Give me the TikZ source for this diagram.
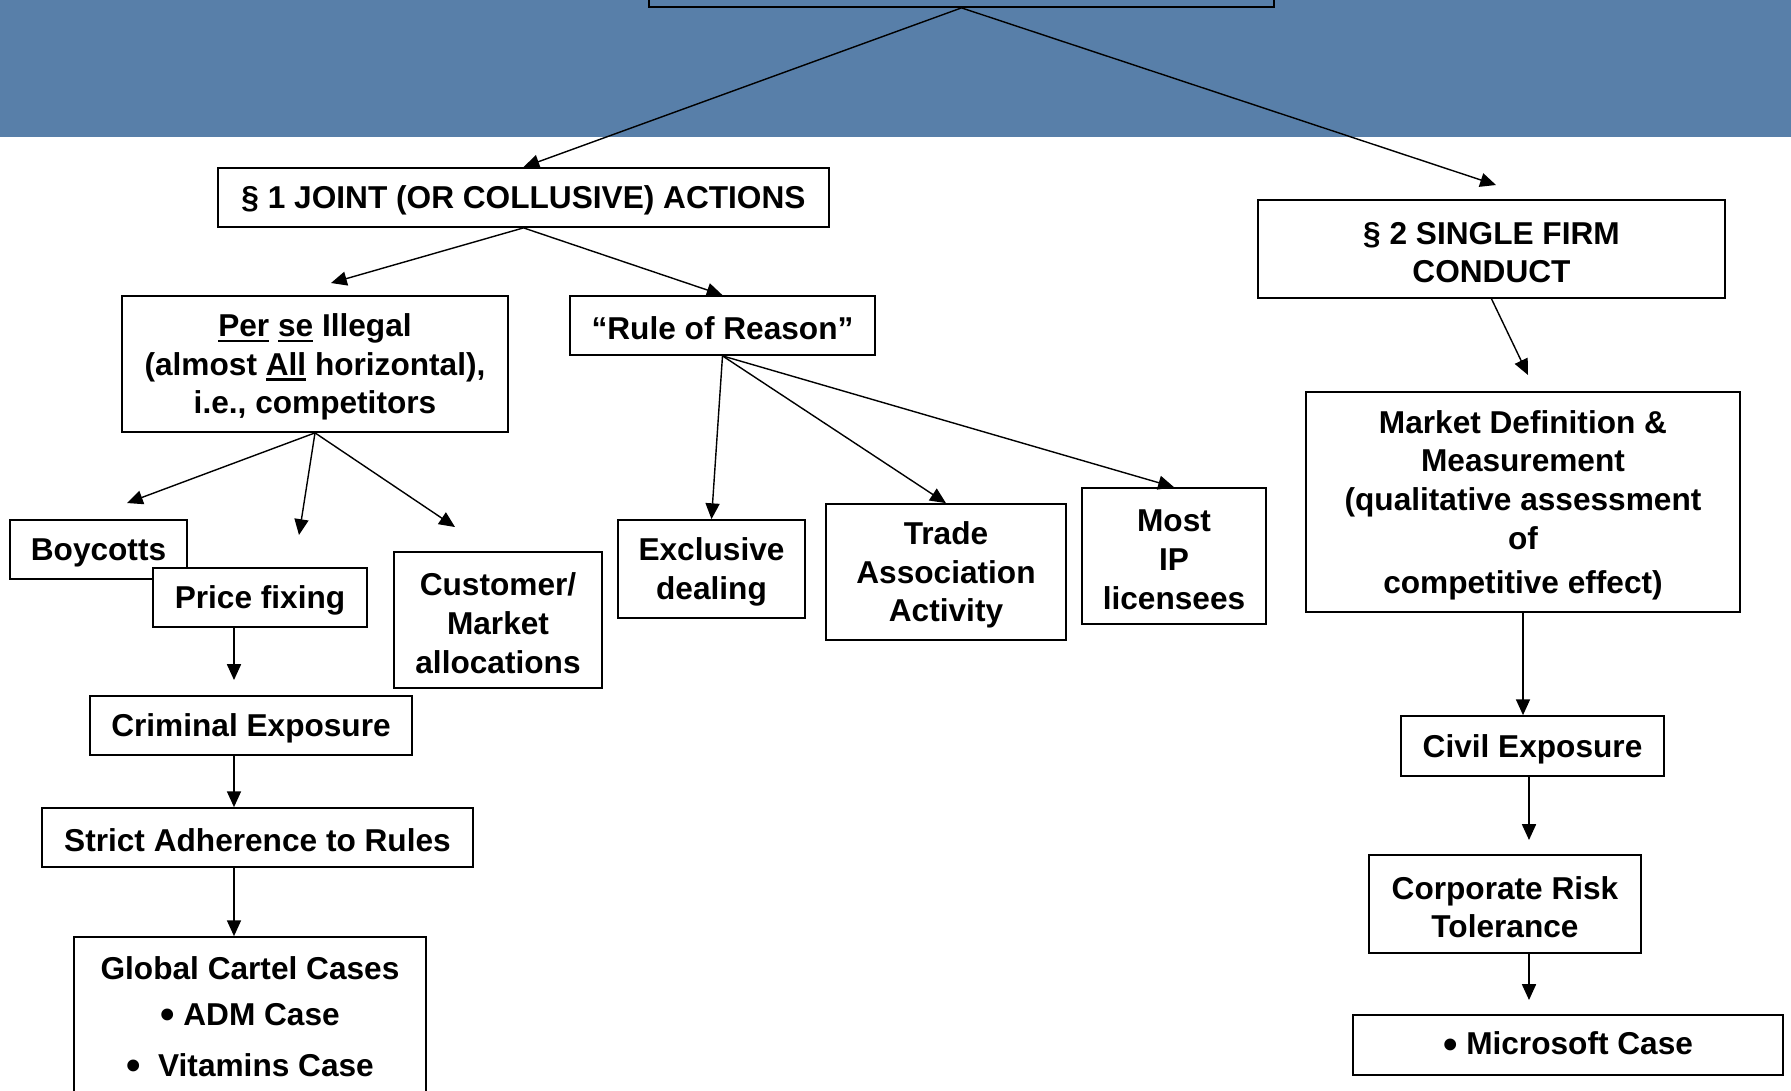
\documentclass[tikz,border=0pt]{standalone}
\usepackage{fontspec}
\setmainfont{Liberation Sans}
\usepackage{xcolor}
\usepackage{graphicx}
\usetikzlibrary{arrows.meta}
\definecolor{bandblue}{RGB}{88,127,169}
\newcommand{\ulbold}[1]{\setbox0\hbox{#1}\rlap{\rule[-3.2pt]{\wd0}{1.4pt}}\box0\relax}
\newcommand{\bul}{\raisebox{-1.9pt}{\scalebox{1.3}{•}}}
\newcommand{\up}{\rule{0pt}{16.5pt}}

\begin{document}
\begin{tikzpicture}[x=0.02cm,y=-0.02cm,
  box/.style={draw,line width=1pt,fill=white,align=center,inner sep=0pt,
    font=\fontsize{18}{22}\selectfont\bfseries},
  arr/.style={line width=0.8pt,-{Triangle[length=9pt,width=8pt]}}]
\clip (0,0) rectangle (1791,1090);
\fill[bandblue] (0,0) rectangle (1791,137);

\node[draw,line width=1pt,minimum width=12.5cm,minimum height=1.34cm] (top) at (961.5,-26.5) {};

\node[box,minimum width=12.22cm,minimum height=1.18cm] (joint) at (523.5,197.5) {\up§ 1 JOINT (OR COLLUSIVE) ACTIONS};
\node[box,minimum width=9.34cm,minimum height=1.96cm] (single) at (1491.5,249) {\up§ 2 SINGLE FIRM\\CONDUCT};

\node[box,minimum width=7.72cm,minimum height=2.72cm] (perse) at (315,364) {\up\ulbold{Per} \ulbold{se} Illegal\\(almost \ulbold{All} horizontal),\\i.e., competitors};
\node[box,minimum width=6.10cm,minimum height=1.18cm] (rule) at (722.5,325.5) {\up“Rule of Reason”};

\node[box,minimum width=3.54cm,minimum height=1.18cm] (boycotts) at (98.5,549.5) {\up Boycotts};
\node[box,minimum width=4.28cm,minimum height=1.18cm] (price) at (260,597.5) {\up Price fixing};
\node[box,minimum width=4.16cm,minimum height=2.72cm] (customer) at (498,620) {\up Customer/\\Market\\allocations};

\node[box,minimum width=3.74cm,minimum height=1.96cm] (exclusive) at (711.5,569) {\up Exclusive\\dealing};
\node[box,minimum width=4.80cm,minimum height=2.72cm] (trade) at (946,572) {\up Trade\\Association\\Activity};
\node[box,minimum width=3.68cm,minimum height=2.72cm] (most) at (1174,556) {\up Most\\IP\\licensees};

\node[box,minimum width=8.68cm,minimum height=4.40cm] (market) at (1523,502) {\up Market Definition \&\\Measurement\\(qualitative assessment\\of\\[3pt]competitive effect)};

\node[box,minimum width=6.44cm,minimum height=1.18cm] (criminal) at (251,725.5) {\up Criminal Exposure};
\node[box,minimum width=8.62cm,minimum height=1.18cm] (strict) at (257.5,837.5) {\up Strict Adherence to Rules};
\node[box,minimum width=7.04cm,minimum height=3.20cm] (global) at (250,1017) {\up Global Cartel Cases\\[4pt]\bul{} ADM Case\\[7pt]\bul\ \ Vitamins Case\rule[-3.7pt]{0pt}{3.7pt}};

\node[box,minimum width=5.26cm,minimum height=1.20cm] (civil) at (1532.5,746) {\up Civil Exposure};
\node[box,minimum width=5.44cm,minimum height=1.96cm] (corporate) at (1505,904) {\up Corporate Risk\\Tolerance};
\node[box,minimum width=8.60cm,minimum height=1.20cm] (microsoft) at (1568,1045) {\bul{} Microsoft Case};

\coordinate (singin) at (1496,185);
\coordinate (persein) at (331,283);
\coordinate (boyin) at (127,503);
\coordinate (pricein) at (299,535);
\coordinate (custin) at (455,527);
\coordinate (marketin) at (1528,375);
\coordinate (leftcol) at (234,680);
\coordinate (rightcol) at (1529,840);
\coordinate (msin) at (1529,1000);

\draw[arr] (top.south) -- (joint.north);
\draw[arr] (top.south) -- (singin);
\draw[arr] (joint.south) -- (persein);
\draw[arr] (joint.south) -- (rule.north);
\draw[arr] (perse.south) -- (boyin);
\draw[arr] (perse.south) -- (pricein);
\draw[arr] (perse.south) -- (custin);
\draw[arr] (rule.south) -- (exclusive.north);
\draw[arr] (rule.south) -- (trade.north);
\draw[arr] (rule.south) -- (most.north);
\draw[arr] (single.south) -- (marketin);
\draw[arr] (market.south) -- (market.south |- civil.north);
\draw[arr] (civil.south -| rightcol) -- (rightcol);
\draw[arr] (corporate.south -| msin) -- (msin);
\draw[arr] (price.south -| leftcol) -- (leftcol);
\draw[arr] (criminal.south -| leftcol) -- (strict.north -| leftcol);
\draw[arr] (strict.south -| leftcol) -- (global.north -| leftcol);
\end{tikzpicture}
\end{document}
